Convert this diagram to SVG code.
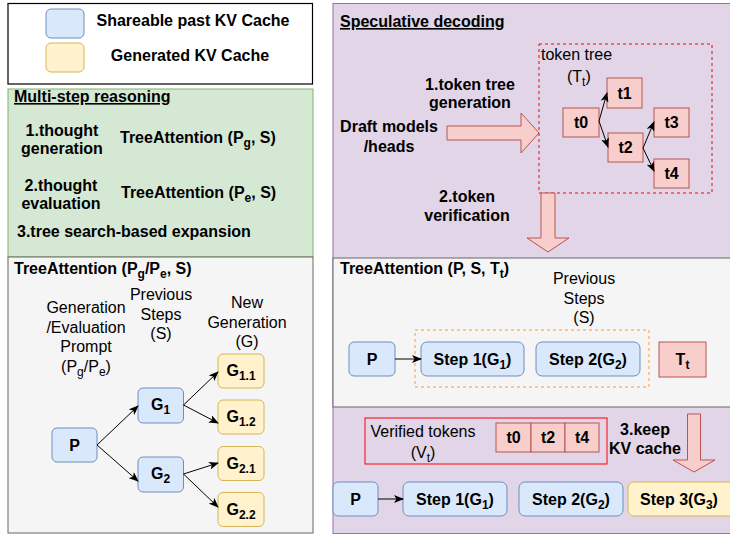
<svg xmlns="http://www.w3.org/2000/svg" width="730" height="536" viewBox="0 0 730 536">
<defs>
<style>
text{font-family:"Liberation Sans",Arial,Helvetica,sans-serif;font-size:16px;fill:#000}
.b{font-weight:bold}
.m{text-anchor:middle}
.s{font-size:12px}
.blue{fill:#dae8fc;stroke:#6c8ebf;stroke-width:1}
.yel{fill:#fff2cc;stroke:#d6b656;stroke-width:1}
.red{fill:#f8cecc;stroke:#b85450;stroke-width:1}
.edge{fill:none;stroke:#000;stroke-width:1}
</style>
<marker id="ah" markerWidth="10" markerHeight="8" refX="9" refY="4" orient="auto" markerUnits="userSpaceOnUse">
<path d="M0,0 L10,4 L0,8 L2.5,4 Z" fill="#000"/>
</marker>
</defs>
<rect width="730" height="536" fill="#fff"/>

<g id="legend">
<rect x="8" y="3.5" width="304.5" height="80.5" fill="#fff" stroke="#000" stroke-width="1.2"/>
<rect class="blue" x="46" y="9" width="38" height="29" rx="5"/>
<rect class="yel" x="46" y="43" width="38" height="29" rx="5"/>
<text class="b m" x="193" y="26">Shareable past KV Cache</text>
<text class="b m" x="190" y="61">Generated KV Cache</text>
</g>

<g id="multi-step">
<rect x="8" y="89" width="305" height="168" fill="#d5e8d4" stroke="#82b366"/>
<text class="b" x="14" y="102" text-decoration="underline">Multi-step reasoning</text>
<text class="b m" x="62" y="136">1.thought</text>
<text class="b m" x="62" y="154">generation</text>
<text class="b" x="120" y="143">TreeAttention (P<tspan class="s" dy="4">g</tspan><tspan dy="-4">, S)</tspan></text>
<text class="b m" x="61" y="191">2.thought</text>
<text class="b m" x="61" y="209">evaluation</text>
<text class="b" x="121" y="198">TreeAttention (P<tspan class="s" dy="4">e</tspan><tspan dy="-4">, S)</tspan></text>
<text class="b" x="17" y="237">3.tree search-based expansion</text>
</g>

<g id="tree-attention-left">
<rect x="8" y="257" width="305" height="276" fill="#f5f5f5" stroke="#666"/>
<text class="b" x="14" y="274">TreeAttention (P<tspan class="s" dy="4">g</tspan><tspan dy="-4">/P</tspan><tspan class="s" dy="4">e</tspan><tspan dy="-4">, S)</tspan></text>
<text class="m" x="86" y="313">Generation</text>
<text class="m" x="86" y="333">/Evaluation</text>
<text class="m" x="86" y="352">Prompt</text>
<text class="m" x="86" y="372">(P<tspan class="s" dy="4">g</tspan><tspan dy="-4">/P</tspan><tspan class="s" dy="4">e</tspan><tspan dy="-4">)</tspan></text>
<text class="m" x="161" y="300">Previous</text>
<text class="m" x="161" y="320">Steps</text>
<text class="m" x="161" y="339">(S)</text>
<text class="m" x="247" y="308">New</text>
<text class="m" x="247" y="328">Generation</text>
<text class="m" x="247" y="347">(G)</text>
</g>

<g id="node-P-left">
<rect class="blue" x="52" y="428" width="45" height="34" rx="5"/>
<text class="b m" x="74.5" y="451">P</text>
</g>
<g id="node-G1">
<rect class="blue" x="138" y="388" width="45.5" height="35" rx="5"/>
<text class="b m" x="160.5" y="410">G<tspan class="s" dy="4">1</tspan></text>
</g>
<g id="node-G2">
<rect class="blue" x="138" y="457" width="45.5" height="35" rx="5"/>
<text class="b m" x="160.5" y="479">G<tspan class="s" dy="4">2</tspan></text>
</g>
<g id="node-G11">
<rect class="yel" x="218" y="354" width="46" height="34" rx="5"/>
<text class="b m" x="241" y="376">G<tspan class="s" dy="4">1.1</tspan></text>
</g>
<g id="node-G12">
<rect class="yel" x="218" y="400" width="46" height="34" rx="5"/>
<text class="b m" x="241" y="422">G<tspan class="s" dy="4">1.2</tspan></text>
</g>
<g id="node-G21">
<rect class="yel" x="218" y="446.5" width="46" height="34" rx="5"/>
<text class="b m" x="241" y="468.5">G<tspan class="s" dy="4">2.1</tspan></text>
</g>
<g id="node-G22">
<rect class="yel" x="218" y="492.5" width="46" height="34" rx="5"/>
<text class="b m" x="241" y="514.5">G<tspan class="s" dy="4">2.2</tspan></text>
</g>

<g id="speculative">
<rect x="333" y="3.5" width="402" height="530" fill="#e1d5e7" stroke="#9673a6"/>
<text class="b" x="340" y="27" text-decoration="underline">Speculative decoding</text>
<rect x="539" y="44" width="173" height="149" fill="none" stroke="#ff0000" stroke-dasharray="3,3"/>
<text x="541" y="60">token tree</text>
<text x="567" y="82">(T<tspan class="s" dy="4">t</tspan><tspan dy="-4">)</tspan></text>
<text class="b m" x="470" y="90">1.token tree</text>
<text class="b m" x="470" y="108">generation</text>
<text class="b m" x="389" y="132">Draft models</text>
<text class="b m" x="389" y="152">/heads</text>
<text class="b m" x="467" y="202">2.token</text>
<text class="b m" x="467" y="221">verification</text>
<polygon class="red" points="447,126 521,126 521,113 539,133 521,153 521,140 447,140"/>
<polygon class="red" points="541,193 555,193 555,238 569,238 548,252 527,238 541,238"/>
</g>

<g id="node-t0"><rect class="red" x="563" y="108" width="36" height="29"/><text class="b m" x="581" y="128">t0</text></g>
<g id="node-t1"><rect class="red" x="607" y="78" width="35" height="30"/><text class="b m" x="624.5" y="99">t1</text></g>
<g id="node-t2"><rect class="red" x="608" y="133" width="35" height="29"/><text class="b m" x="625.5" y="153">t2</text></g>
<g id="node-t3"><rect class="red" x="654" y="108" width="35" height="29"/><text class="b m" x="671.5" y="128">t3</text></g>
<g id="node-t4"><rect class="red" x="654" y="159" width="35" height="29"/><text class="b m" x="671.5" y="179">t4</text></g>

<g id="tree-attention-right">
<rect x="333" y="258" width="402" height="149" fill="#f5f5f5" stroke="#666"/>
<text class="b" x="340" y="274">TreeAttention (P, S, T<tspan class="s" dy="4">t</tspan><tspan dy="-4">)</tspan></text>
<text class="m" x="584" y="284">Previous</text>
<text class="m" x="584" y="304">Steps</text>
<text class="m" x="584" y="323">(S)</text>
<rect x="415" y="330" width="234" height="57" fill="none" stroke="#ff9933" stroke-dasharray="3,3"/>
</g>
<g id="node-P-mid"><rect class="blue" x="349" y="342" width="46" height="34" rx="5"/><text class="b m" x="372" y="365">P</text></g>
<g id="node-step1-mid"><rect class="blue" x="421" y="342" width="103" height="34" rx="6"/><text class="b m" x="472.5" y="365">Step 1(G<tspan class="s" dy="4">1</tspan><tspan dy="-4">)</tspan></text></g>
<g id="node-step2-mid"><rect class="blue" x="536" y="342" width="104" height="34" rx="6"/><text class="b m" x="588" y="365">Step 2(G<tspan class="s" dy="4">2</tspan><tspan dy="-4">)</tspan></text></g>
<g id="node-Tt"><rect class="red" x="659" y="342" width="47" height="35"/><text class="b m" x="682.5" y="365">T<tspan class="s" dy="4">t</tspan></text></g>

<g id="verified">
<rect x="365" y="418" width="242" height="46" fill="none" stroke="#ff0000"/>
<text class="m" x="423" y="437">Verified tokens</text>
<text class="m" x="423" y="458">(V<tspan class="s" dy="4">t</tspan><tspan dy="-4">)</tspan></text>
<rect class="red" x="496" y="423" width="35" height="29"/>
<rect class="red" x="531" y="423" width="34" height="29"/>
<rect class="red" x="565" y="423" width="34" height="29"/>
<text class="b m" x="513.5" y="443">t0</text>
<text class="b m" x="548" y="443">t2</text>
<text class="b m" x="582" y="443">t4</text>
<text class="b m" x="645" y="435">3.keep</text>
<text class="b m" x="645" y="454">KV cache</text>
<polygon class="red" points="687.5,414 700.5,414 700.5,460 715,460 694,472 673,460 687.5,460"/>
</g>

<g id="node-P-bottom"><rect class="blue" x="333" y="482" width="45" height="34" rx="5"/><text class="b m" x="355.5" y="505">P</text></g>
<g id="node-step1-bottom"><rect class="blue" x="403" y="482" width="104" height="34" rx="6"/><text class="b m" x="455" y="505">Step 1(G<tspan class="s" dy="4">1</tspan><tspan dy="-4">)</tspan></text></g>
<g id="node-step2-bottom"><rect class="blue" x="519" y="482" width="104" height="34" rx="6"/><text class="b m" x="571" y="505">Step 2(G<tspan class="s" dy="4">2</tspan><tspan dy="-4">)</tspan></text></g>
<g id="node-step3-bottom"><rect class="yel" x="628" y="482" width="110" height="34" rx="6"/><text class="b m" x="679" y="505">Step 3(G<tspan class="s" dy="4">3</tspan><tspan dy="-4">)</tspan></text></g>

<g id="connectors">
<line class="edge" x1="97" y1="445" x2="138" y2="406" marker-end="url(#ah)"/>
<line class="edge" x1="97" y1="445" x2="138" y2="481" marker-end="url(#ah)"/>
<line class="edge" x1="183.5" y1="405" x2="218" y2="372" marker-end="url(#ah)"/>
<line class="edge" x1="183.5" y1="405" x2="218" y2="423" marker-end="url(#ah)"/>
<line class="edge" x1="183.5" y1="474" x2="218" y2="463" marker-end="url(#ah)"/>
<line class="edge" x1="183.5" y1="474" x2="218" y2="507" marker-end="url(#ah)"/>
<line class="edge" x1="599" y1="121" x2="607" y2="93" marker-end="url(#ah)"/>
<line class="edge" x1="599" y1="121" x2="608" y2="147" marker-end="url(#ah)"/>
<line class="edge" x1="643" y1="148" x2="654" y2="122" marker-end="url(#ah)"/>
<line class="edge" x1="643" y1="148" x2="654" y2="171" marker-end="url(#ah)"/>
<line class="edge" x1="395" y1="359" x2="421" y2="359" marker-end="url(#ah)"/>
<line class="edge" x1="378" y1="499" x2="403" y2="499" marker-end="url(#ah)"/>
</g>
</svg>
